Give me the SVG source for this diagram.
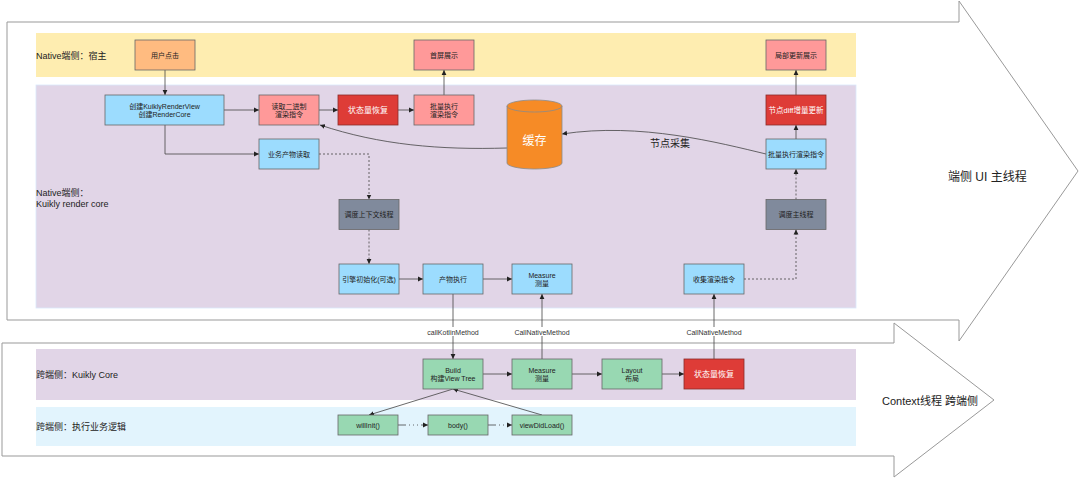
<svg xmlns="http://www.w3.org/2000/svg" width="1080" height="479" viewBox="0 0 1080 479">
<defs>
<marker id="ah" markerWidth="6" markerHeight="6" refX="5" refY="3" orient="auto" markerUnits="userSpaceOnUse"><path d="M0,0.6 L5,3 L0,5.4 Z" fill="#222"/></marker>
</defs>
<style>
text{font-family:"Liberation Sans","Noto Sans CJK SC",sans-serif;fill:#222}
.n{font-size:7px;text-anchor:middle;dominant-baseline:central}
.wt{fill:#fff;font-size:8px}
.lbl{font-size:9px;dominant-baseline:central}
.el{font-size:7px;text-anchor:middle;dominant-baseline:central;fill:#333}
.e{fill:none;stroke:#444;stroke-width:0.8;marker-end:url(#ah)}
.dot{stroke-dasharray:2 2}
.dd{stroke-dasharray:8 3 1 3 1 3 1 3 40}
.big{fill:#fff;stroke:#999;stroke-width:1}
.blue{fill:#9cdcfe;stroke:#666;stroke-width:0.8}
.pink{fill:#ff9999;stroke:#666;stroke-width:0.8}
.red{fill:#de3c37;stroke:#8a2b28;stroke-width:0.8}
.orange{fill:#ffbb80;stroke:#666;stroke-width:0.8}
.gray{fill:#808a9c;stroke:#666;stroke-width:0.8}
.green{fill:#98d8b2;stroke:#666;stroke-width:0.8}
.lb{fill:#fff}
</style>

<g id="thread-arrows">
<polygon class="big" points="7,22 959,22 959,1 1078,171 959,341 959,320 7,320"/>
<polygon class="big" points="2,343 894,343 894,323 994,400 894,477 894,456 2,456"/>
<text x="948" y="177" style="font-size:12px;dominant-baseline:central">端侧 UI 主线程</text>
<text x="882" y="401" style="font-size:11px;dominant-baseline:central">Context线程 跨端侧</text>
</g>

<g id="lanes">
<rect x="36" y="33" width="820" height="44" fill="#feedb0"/>
<rect x="36" y="85" width="820" height="223" fill="#e1d5e7" stroke="#dae8fc" stroke-width="0.8"/>
<rect x="36" y="349" width="820" height="51" fill="#e1d5e7"/>
<rect x="36" y="407" width="820" height="39" fill="#e2f4fd"/>
<text class="lbl" x="36" y="56">Native端侧：宿主</text>
<text class="lbl" x="36" y="193">Native端侧：</text>
<text class="lbl" x="36" y="204">Kuikly render core</text>
<text class="lbl" x="36" y="375">跨端侧：Kuikly Core</text>
<text class="lbl" x="36" y="427">跨端侧：执行业务逻辑</text>
</g>

<g id="connectors">
<path class="e" d="M165,70 L165,95"/>
<path class="e" d="M224,110 L259,110"/>
<path class="e" d="M319,110 L338,110"/>
<path class="e" d="M398,110 L414,110"/>
<path class="e" d="M444,95 L444,70"/>
<path class="e" d="M165,125 L165,154 L259,154"/>
<path class="e dot" d="M319,154 L369,154 L369,199.5"/>
<path class="e dot" d="M369,229.5 L369,264"/>
<path class="e" d="M399,279 L423,279"/>
<path class="e" d="M483,279 L512,279"/>
<path class="e" d="M453,294 L453,359"/>
<rect class="lb" x="424" y="327" width="58" height="9"/>
<text class="el" x="453" y="332">callKotlinMethod</text>
<path class="e" d="M542,359 L542,294"/>
<rect class="lb" x="513" y="327" width="58" height="9"/>
<text class="el" x="542" y="332">CallNativeMethod</text>
<path class="e" d="M714,359 L714,294"/>
<rect class="lb" x="685" y="327" width="58" height="9"/>
<text class="el" x="714" y="332">CallNativeMethod</text>
<path class="e dot" d="M744,279 L796,279 L796,229.5"/>
<path class="e dot" d="M796,199.5 L796,169"/>
<path class="e" d="M796,139 L796,125"/>
<path class="e" d="M796,95 L796,70"/>
<path class="e" d="M766,154 C720,143 640,122 562,134"/>
<text x="670" y="143" style="font-size:10px;text-anchor:middle;dominant-baseline:central">节点采集</text>
<path class="e" d="M507,148 C440,150 380,145 320,125"/>
<path class="e" d="M453,389 L369,415"/>
<path class="e" d="M542,415 L453,389"/>
<path class="e dd" d="M398,425 L428,425"/>
<path class="e dd" d="M488,425 L512,425"/>
<path class="e" d="M483,374 L512,374"/>
<path class="e" d="M572,374 L602,374"/>
<path class="e" d="M662,374 L684,374"/>
</g>

<g id="n-user"><rect class="orange" x="135" y="40" width="60" height="30"/><text class="n" x="165" y="55">用户点击</text></g>
<g id="n-first"><rect class="pink" x="414" y="40" width="60" height="30"/><text class="n" x="444" y="55">首屏展示</text></g>
<g id="n-local"><rect class="pink" x="766" y="40" width="60" height="30"/><text class="n" x="796" y="55">局部更新展示</text></g>
<g id="n-create"><rect class="blue" x="105" y="95" width="119" height="30"/><text class="n" x="164.5" y="106">创建KuiklyRenderView</text><text class="n" x="164.5" y="114.5">创建RenderCore</text></g>
<g id="n-read"><rect class="pink" x="259" y="95" width="60" height="30"/><text class="n" x="289" y="106">读取二进制</text><text class="n" x="289" y="114.5">渲染指令</text></g>
<g id="n-restore1"><rect class="red" x="338" y="95" width="60" height="30"/><text class="n wt" x="368" y="110">状态量恢复</text></g>
<g id="n-batch1"><rect class="pink" x="414" y="95" width="60" height="30"/><text class="n" x="444" y="106">批量执行</text><text class="n" x="444" y="114.5">渲染指令</text></g>
<g id="n-cache">
<path d="M507,106 A27.5,6 0 0 1 562,106 L562,163 A27.5,6 0 0 1 507,163 Z" fill="#f68b26" stroke="#8a8a8a" stroke-width="0.8"/>
<path d="M507,106 A27.5,6 0 0 0 562,106" fill="none" stroke="#8a8a8a" stroke-width="0.8"/>
<text x="534.5" y="141" style="font-size:12px;fill:#fff;text-anchor:middle;dominant-baseline:central">缓存</text>
</g>
<g id="n-diff"><rect class="red" x="766" y="95" width="60" height="30"/><text class="n wt" x="796" y="110" style="font-size:7.5px">节点diff增量更新</text></g>
<g id="n-batch2"><rect class="blue" x="766" y="139" width="60" height="30"/><text class="n" x="796" y="154">批量执行渲染指令</text></g>
<g id="n-load"><rect class="blue" x="259" y="139" width="60" height="30"/><text class="n" x="289" y="154">业务产物读取</text></g>
<g id="n-schedctx"><rect class="gray" x="339" y="199.5" width="60" height="30"/><text class="n" x="369" y="214.5">调度上下文线程</text></g>
<g id="n-schedmain"><rect class="gray" x="766" y="199.5" width="60" height="30"/><text class="n" x="796" y="214.5">调度主线程</text></g>
<g id="n-engine"><rect class="blue" x="339" y="264" width="60" height="30"/><text class="n" x="369" y="279">引擎初始化(可选)</text></g>
<g id="n-exec"><rect class="blue" x="423" y="264" width="60" height="30"/><text class="n" x="453" y="279">产物执行</text></g>
<g id="n-measure1"><rect class="blue" x="512" y="264" width="60" height="30"/><text class="n" x="542" y="275">Measure</text><text class="n" x="542" y="283.5">测量</text></g>
<g id="n-collect"><rect class="blue" x="684" y="264" width="60" height="30"/><text class="n" x="714" y="279">收集渲染指令</text></g>
<g id="n-build"><rect class="green" x="423" y="359" width="60" height="30"/><text class="n" x="453" y="370">Build</text><text class="n" x="453" y="378.5">构建View Tree</text></g>
<g id="n-measure2"><rect class="green" x="512" y="359" width="60" height="30"/><text class="n" x="542" y="370">Measure</text><text class="n" x="542" y="378.5">测量</text></g>
<g id="n-layout"><rect class="green" x="602" y="359" width="60" height="30"/><text class="n" x="632" y="370">Layout</text><text class="n" x="632" y="378.5">布局</text></g>
<g id="n-restore2"><rect class="red" x="684" y="359" width="60" height="30"/><text class="n wt" x="714" y="374">状态量恢复</text></g>
<g id="n-willinit"><rect class="green" x="338" y="415" width="60" height="20"/><text class="n" x="368" y="425">willInit()</text></g>
<g id="n-body"><rect class="green" x="428" y="415" width="60" height="20"/><text class="n" x="458" y="425">body()</text></g>
<g id="n-viewdidload"><rect class="green" x="512" y="415" width="60" height="20"/><text class="n" x="542" y="425">viewDidLoad()</text></g>
</svg>
